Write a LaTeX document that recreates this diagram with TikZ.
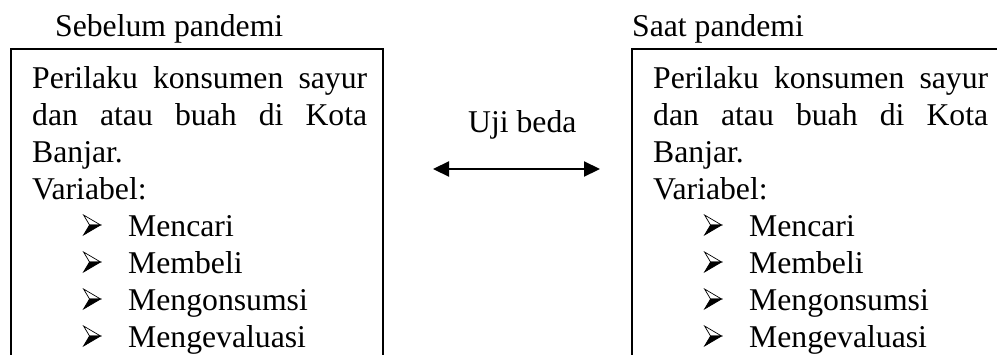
\documentclass[tikz,border=0pt]{standalone}
\usepackage{fontspec}
\setmainfont{Liberation Serif}
\usetikzlibrary{arrows.meta}
\newcommand\arrbul{\tikz[x=1pt,y=1pt,baseline=0pt,line width=0.7pt,line join=miter]{%
  \filldraw[fill=white] (0,21)--(17,11)--(6,11)--cycle;
  \filldraw (0,1)--(17,11)--(6,11)--cycle;}}
\begin{document}
\begin{tikzpicture}[x=1pt,y=-1pt,
  txt/.style={anchor=base west,inner sep=0pt,font=\fontsize{31.7}{37}\selectfont},
  frame/.style={line width=2pt},
  link/.style={line width=2.2pt,{Triangle[length=16pt,width=15pt]}-{Triangle[length=16pt,width=15pt]}}]
\useasboundingbox (0,0) rectangle (997,354);
\node[txt] (tL) at (55,36) {Sebelum pandemi};
\node[txt] (tR) at (632,36) {Saat pandemi};
\draw[frame] (11,420) -- (11,49) -- (383,49) -- (383,420);
\draw[frame] (632,420) -- (632,49) -- (1030,49);
\foreach \s/\o in {L/0,R/621}{
  \node[txt] (p1\s) at (32+\o,88) {\hbox to 335pt{Perilaku\hfill konsumen\hfill sayur}};
  \node[txt] (p2\s) at (32+\o,125) {\hbox to 335pt{dan\hfill atau\hfill buah\hfill di\hfill Kota}};
  \node[txt] (p3\s) at (32+\o,162) {Banjar.};
  \node[txt] (p4\s) at (32+\o,199) {Variabel:};
  \node[txt] (b1\s) at (83+\o,236) {\arrbul};
  \node[txt] (i1\s) at (128+\o,236) {Mencari};
  \node[txt] (b2\s) at (83+\o,273) {\arrbul};
  \node[txt] (i2\s) at (128+\o,273) {Membeli};
  \node[txt] (b3\s) at (83+\o,310) {\arrbul};
  \node[txt] (i3\s) at (128+\o,310) {Mengonsumsi};
  \node[txt] (b4\s) at (83+\o,347) {\arrbul};
  \node[txt] (i4\s) at (128+\o,347) {Mengevaluasi};
}
\node[txt] (uji) at (468,132) {Uji beda};
\coordinate (aL) at (433,169);
\coordinate (aR) at (600,169);
\draw[link] (aL) -- (aR);
\end{tikzpicture}
\end{document}
